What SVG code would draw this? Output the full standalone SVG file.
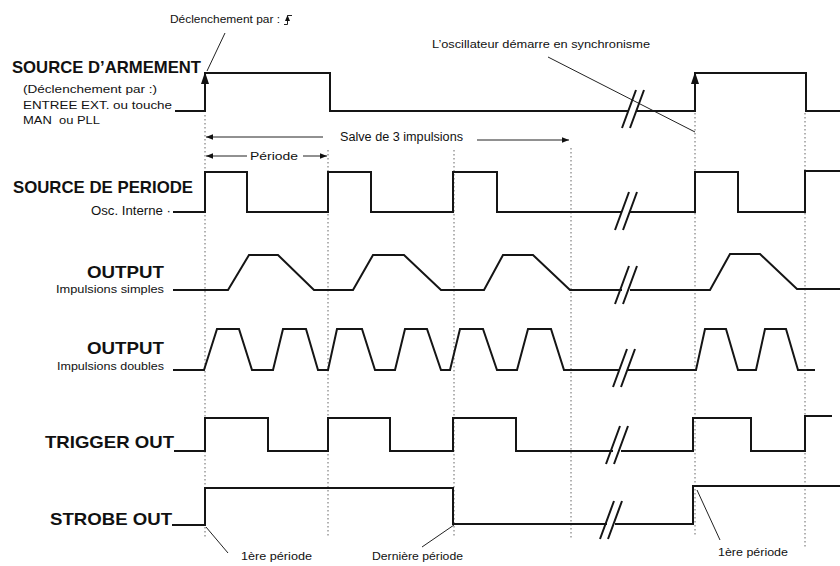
<svg xmlns="http://www.w3.org/2000/svg" width="840" height="566" viewBox="0 0 840 566">
<style>
text{font-family:"Liberation Sans",Arial,sans-serif;fill:#111;white-space:pre}
.b{font-weight:bold;font-size:17px}
.s{font-size:11px}
.m{font-size:12px}
.sig{stroke:#151515;stroke-width:2;fill:none;stroke-linejoin:miter}
.thin{stroke:#222;stroke-width:1;fill:none}
.dot{stroke:#666;stroke-width:1;stroke-dasharray:1.5 2.5;fill:none}
.brk{stroke:#151515;stroke-width:2;fill:none}
.ah{fill:#111}
</style>
<defs>
<marker id="arr" viewBox="0 0 10 10" refX="10" refY="5" markerWidth="7" markerHeight="7" orient="auto-start-reverse" markerUnits="userSpaceOnUse">
<path d="M0,1 L10,5 L0,9 Z" fill="#111"/>
</marker>
<path id="brkmark" d="M-11,19 L3,-19 M-3,19 L11,-19"/>
</defs>
<rect width="840" height="566" fill="#fff"/>

<g id="connectors">
<g id="guides">
<line class="dot" x1="205" y1="115" x2="205" y2="538"/>
<line class="dot" x1="328" y1="150" x2="328" y2="538"/>
<line class="dot" x1="454" y1="150" x2="454" y2="538"/>
<line class="dot" x1="571" y1="148" x2="571" y2="538"/>
<line class="dot" x1="695" y1="113" x2="695" y2="535"/>
<line class="dot" x1="805" y1="113" x2="805" y2="547"/>
</g>
<g id="dimension-arrows">
<line class="thin" x1="323" y1="137" x2="206" y2="137" marker-end="url(#arr)"/>
<line class="thin" x1="477" y1="140" x2="569" y2="140" marker-end="url(#arr)"/>
<line class="thin" x1="247" y1="156" x2="206" y2="156" marker-end="url(#arr)"/>
<line class="thin" x1="303" y1="156" x2="327" y2="156" marker-end="url(#arr)"/>
</g>
<g id="callouts">
<line class="thin" x1="207" y1="71" x2="225" y2="33"/>
<line class="thin" x1="548" y1="57" x2="695" y2="132"/>
<line class="thin" x1="206" y1="527" x2="228" y2="553"/>
<line class="thin" x1="454" y1="525" x2="422" y2="547"/>
<line class="thin" x1="697" y1="490" x2="720" y2="540"/>
</g>
</g>

<g id="trigger-note">
<text class="s" x="170" y="23" textLength="110" lengthAdjust="spacingAndGlyphs">Déclenchement par :</text>
<path class="thin" d="M284,24.5 H287.5 V15.5 H292"/>
<path class="ah" d="M287.5,15 L285,21 L290,21 Z"/>
</g>

<g id="osc-note">
<text class="s" x="432" y="48" textLength="218" lengthAdjust="spacingAndGlyphs">L’oscillateur démarre en synchronisme</text>
</g>

<g id="source-armement">
<text class="b" x="12" y="73" textLength="189" lengthAdjust="spacingAndGlyphs">SOURCE D’ARMEMENT</text>
<text class="s" x="23" y="93" textLength="134" lengthAdjust="spacingAndGlyphs">(Déclenchement par :)</text>
<text class="s" x="23" y="109" textLength="149" lengthAdjust="spacingAndGlyphs">ENTREE EXT. ou touche</text>
<text class="s" x="23" y="124" textLength="77" lengthAdjust="spacingAndGlyphs">MAN  ou PLL</text>
<path class="sig" d="M175,111 H205 V73 H330 V111 H629 M637,111 H695 V73 H806 V111 H840"/>
<path class="ah" d="M205,72 L201,84 L209,84 Z"/>
<path class="ah" d="M695,72 L691,84 L699,84 Z"/>
<use href="#brkmark" class="brk" x="633" y="109"/>
</g>

<g id="salve">
<text class="m" x="340" y="141" textLength="123" lengthAdjust="spacingAndGlyphs">Salve de 3 impulsions</text>
</g>
<g id="periode">
<text class="s" x="250" y="160" textLength="48" lengthAdjust="spacingAndGlyphs">Période</text>
</g>

<g id="source-periode">
<text class="b" x="13" y="193" textLength="180" lengthAdjust="spacingAndGlyphs">SOURCE DE PERIODE</text>
<text class="m" x="171" y="215" text-anchor="end" textLength="80" lengthAdjust="spacingAndGlyphs">Osc. Interne ·</text>
<path class="sig" d="M173,212 H205 V172 H247 V212 H328 V172 H371 V212 H453 V172 H497 V212 H622 M630,212 H695 V172 H738 V212 H805 V171 H840"/>
<use href="#brkmark" class="brk" x="626" y="211"/>
</g>

<g id="output-simple">
<text class="b" x="164" y="278" text-anchor="end" textLength="77" lengthAdjust="spacingAndGlyphs">OUTPUT</text>
<text class="s" x="164" y="293" text-anchor="end" textLength="108" lengthAdjust="spacingAndGlyphs">Impulsions simples</text>
<path class="sig" d="M173,290 H228 L249,255 H278 L314,290 H353 L373,255 H404 L441,290 H484 L503,255 H533 L570,290 H622 M630,290 H710 L730,254 H760 L797,289 H840"/>
<use href="#brkmark" class="brk" x="626" y="285"/>
</g>

<g id="output-double">
<text class="b" x="164" y="354" text-anchor="end" textLength="77" lengthAdjust="spacingAndGlyphs">OUTPUT</text>
<text class="s" x="164" y="370" text-anchor="end" textLength="107" lengthAdjust="spacingAndGlyphs">Impulsions doubles</text>
<path class="sig" d="M173,370 H204 L217,329 H239 L252,370 H273 L283,329 H306 L318,370 H328 L337,329 H362 L375,370 H395 L405,329 H427 L441,370 H450 L460,329 H483 L497,370 H517 L528,329 H551 L564,370 H620 M628,370 H696 L705,329 H726 L738,370 H756 L765,329 H786 L798,370 H815"/>
<use href="#brkmark" class="brk" x="624" y="368"/>
</g>

<g id="trigger-out">
<text class="b" x="45" y="448" textLength="129" lengthAdjust="spacingAndGlyphs">TRIGGER OUT</text>
<path class="sig" d="M174,451 H205 V418 H268 V451 H328 V418 H390 V451 H453 V418 H516 V451 H613 M621,451 H693 V418 H751 V451 H805 V416 H832"/>
<use href="#brkmark" class="brk" x="617" y="445"/>
</g>

<g id="strobe-out">
<text class="b" x="50" y="525" textLength="122" lengthAdjust="spacingAndGlyphs">STROBE OUT</text>
<path class="sig" d="M172,525 H205 V488 H453 V524 H607 M615,524 H693 V486 H840"/>
<use href="#brkmark" class="brk" x="611" y="520"/>
</g>

<g id="notes-bottom">
<text class="s" x="241" y="560" textLength="71" lengthAdjust="spacingAndGlyphs">1ère période</text>
<text class="s" x="372" y="560" textLength="91" lengthAdjust="spacingAndGlyphs">Dernière période</text>
<text class="s" x="718" y="556" textLength="70" lengthAdjust="spacingAndGlyphs">1ère période</text>
</g>
</svg>
